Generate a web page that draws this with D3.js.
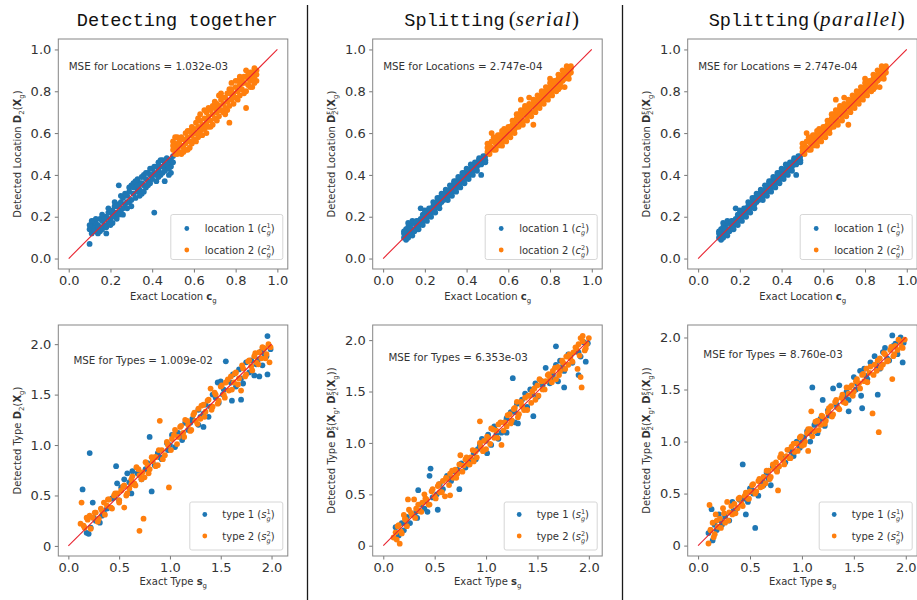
<!DOCTYPE html>
<html>
<head>
<meta charset="utf-8">
<script src="https://cdn.jsdelivr.net/npm/d3@7"></script>
<style>
  body { margin: 0; background: #fff; }
  svg { display: block; }
</style>
</head>
<body>
<div id="chart"></div>
<script>
// ---- data (exact value, detected value) ----
const locTogether1 = [[0.10,0.07],[0.10,0.14],[0.11,0.16],[0.11,0.12],[0.12,0.15],[0.12,0.18],[0.13,0.13],[0.13,0.17],[0.14,0.12],[0.14,0.16],[0.15,0.19],[0.15,0.15],[0.16,0.14],[0.16,0.18],[0.17,0.16],[0.18,0.12],[0.18,0.20],[0.19,0.17],[0.19,0.22],[0.20,0.19],[0.21,0.23],[0.21,0.17],[0.22,0.21],[0.22,0.25],[0.23,0.22],[0.23,0.19],[0.24,0.26],[0.24,0.35],[0.25,0.23],[0.25,0.27],[0.26,0.24],[0.26,0.29],[0.27,0.26],[0.28,0.30],[0.28,0.24],[0.29,0.32],[0.29,0.27],[0.30,0.28],[0.30,0.35],[0.31,0.31],[0.31,0.36],[0.32,0.29],[0.32,0.34],[0.33,0.38],[0.33,0.32],[0.34,0.36],[0.34,0.33],[0.35,0.31],[0.35,0.39],[0.36,0.35],[0.36,0.40],[0.37,0.34],[0.37,0.38],[0.38,0.41],[0.38,0.37],[0.39,0.40],[0.39,0.36],[0.40,0.38],[0.40,0.43],[0.41,0.22],[0.41,0.41],[0.42,0.44],[0.42,0.37],[0.43,0.42],[0.43,0.46],[0.44,0.40],[0.44,0.44],[0.45,0.47],[0.45,0.41],[0.46,0.45],[0.46,0.37],[0.47,0.48],[0.47,0.43],[0.48,0.46],[0.48,0.40],[0.49,0.47],[0.49,0.44],[0.50,0.49],
  [0.10,0.16],[0.11,0.18],[0.12,0.13],[0.13,0.19],[0.14,0.15],[0.15,0.13],[0.16,0.21],[0.17,0.19],[0.18,0.15],[0.19,0.24],[0.20,0.22],[0.20,0.16],[0.21,0.20],[0.22,0.27],[0.23,0.25],[0.24,0.21],[0.25,0.30],[0.26,0.21],[0.27,0.31],[0.28,0.27],[0.29,0.34],[0.30,0.25],[0.31,0.34],[0.32,0.37],[0.33,0.35],[0.34,0.30],[0.35,0.36],[0.36,0.32],[0.37,0.41],[0.38,0.35],[0.39,0.43],[0.40,0.40],[0.41,0.44],[0.42,0.40],[0.43,0.39],[0.44,0.47],[0.45,0.44],[0.46,0.42],[0.47,0.45],[0.48,0.43],[0.49,0.41],[0.50,0.46]];
const locTogether2 = [[0.50,0.52],[0.50,0.56],[0.51,0.50],[0.51,0.55],[0.52,0.58],[0.52,0.53],[0.53,0.51],[0.53,0.56],[0.54,0.54],[0.54,0.50],[0.55,0.57],[0.55,0.53],[0.56,0.55],[0.56,0.60],[0.57,0.52],[0.57,0.58],[0.58,0.56],[0.58,0.61],[0.59,0.55],[0.59,0.59],[0.60,0.62],[0.60,0.57],[0.61,0.60],[0.61,0.65],[0.62,0.58],[0.62,0.63],[0.62,0.67],[0.63,0.66],[0.63,0.61],[0.64,0.64],[0.64,0.59],[0.65,0.67],[0.65,0.62],[0.66,0.65],[0.66,0.70],[0.66,0.60],[0.67,0.63],[0.67,0.68],[0.68,0.66],[0.68,0.71],[0.69,0.69],[0.69,0.64],[0.70,0.72],[0.70,0.67],[0.71,0.70],[0.71,0.74],[0.72,0.68],[0.72,0.73],[0.72,0.78],[0.73,0.71],[0.73,0.76],[0.74,0.70],[0.74,0.74],[0.75,0.77],[0.75,0.72],[0.76,0.75],[0.76,0.71],[0.77,0.79],[0.77,0.65],[0.77,0.81],[0.78,0.76],[0.78,0.81],[0.79,0.74],[0.79,0.79],[0.80,0.82],[0.80,0.77],[0.81,0.80],[0.81,0.85],[0.82,0.78],[0.82,0.83],[0.83,0.86],[0.83,0.81],[0.84,0.84],[0.84,0.79],[0.85,0.72],[0.85,0.87],[0.86,0.83],[0.86,0.88],[0.87,0.85],[0.87,0.89],[0.88,0.86],[0.88,0.82],[0.89,0.91],[0.89,0.87],[0.90,0.88],[0.90,0.85],
  [0.50,0.54],[0.51,0.58],[0.52,0.50],[0.53,0.54],[0.54,0.58],[0.55,0.51],[0.56,0.52],[0.57,0.61],[0.58,0.53],[0.59,0.63],[0.60,0.60],[0.61,0.56],[0.62,0.60],[0.63,0.69],[0.64,0.62],[0.65,0.71],[0.66,0.63],[0.67,0.72],[0.68,0.63],[0.69,0.73],[0.70,0.75],[0.71,0.66],[0.72,0.71],[0.73,0.79],[0.74,0.77],[0.75,0.69],[0.76,0.79],[0.77,0.73],[0.78,0.84],[0.79,0.77],[0.80,0.85],[0.81,0.76],[0.82,0.87],[0.83,0.84],[0.84,0.87],[0.85,0.80],[0.86,0.86],[0.87,0.82],[0.88,0.89],[0.89,0.84],[0.90,0.90],[0.85,0.90]];
const locSplit1 = [[0.10,0.10],[0.10,0.12],[0.11,0.14],[0.11,0.11],[0.12,0.15],[0.12,0.12],[0.13,0.16],[0.13,0.12],[0.14,0.17],[0.14,0.14],[0.15,0.17],[0.15,0.14],[0.16,0.16],[0.16,0.14],[0.17,0.18],[0.17,0.16],[0.18,0.24],[0.18,0.19],[0.19,0.18],[0.19,0.21],[0.20,0.21],[0.20,0.19],[0.21,0.22],[0.21,0.20],[0.22,0.23],[0.22,0.21],[0.23,0.24],[0.23,0.22],[0.24,0.25],[0.24,0.23],[0.25,0.26],[0.25,0.24],[0.26,0.27],[0.26,0.25],[0.27,0.29],[0.27,0.26],[0.28,0.31],[0.28,0.27],[0.29,0.31],[0.29,0.28],[0.30,0.31],[0.30,0.29],[0.31,0.32],[0.31,0.30],[0.32,0.33],[0.32,0.31],[0.33,0.34],[0.33,0.32],[0.34,0.36],[0.34,0.33],[0.35,0.37],[0.35,0.34],[0.36,0.37],[0.36,0.35],[0.37,0.38],[0.37,0.36],[0.38,0.39],[0.38,0.37],[0.39,0.41],[0.39,0.38],[0.40,0.41],[0.40,0.39],[0.41,0.42],[0.41,0.40],[0.42,0.43],[0.42,0.41],[0.43,0.44],[0.43,0.42],[0.44,0.45],[0.44,0.43],[0.45,0.46],[0.45,0.44],[0.46,0.47],[0.46,0.45],[0.47,0.40],[0.47,0.47],[0.48,0.48],[0.48,0.46],[0.49,0.47],[0.49,0.49],
  [0.10,0.13],[0.11,0.09],[0.12,0.17],[0.12,0.10],[0.13,0.14],[0.14,0.11],[0.14,0.18],[0.15,0.13],[0.16,0.18],[0.17,0.14],[0.18,0.17],[0.19,0.16],[0.20,0.23],[0.21,0.18],[0.22,0.24],[0.23,0.20],[0.24,0.27],[0.25,0.22],[0.26,0.29],[0.27,0.24],[0.28,0.29],[0.29,0.30],[0.30,0.33],[0.31,0.28],[0.32,0.35],[0.33,0.30],[0.34,0.37],[0.35,0.32],[0.36,0.39],[0.37,0.34],[0.38,0.41],[0.39,0.36],[0.40,0.43],[0.41,0.38],[0.42,0.45],[0.43,0.40],[0.44,0.46],[0.45,0.42],[0.46,0.48],[0.47,0.45],[0.48,0.49],[0.49,0.46],[0.38,0.40],[0.35,0.36]];
const locSplit2 = [[0.50,0.51],[0.50,0.53],[0.51,0.55],[0.51,0.50],[0.52,0.60],[0.52,0.53],[0.53,0.56],[0.53,0.52],[0.54,0.55],[0.54,0.57],[0.55,0.59],[0.55,0.54],[0.56,0.57],[0.56,0.55],[0.57,0.58],[0.57,0.56],[0.58,0.60],[0.58,0.57],[0.59,0.61],[0.59,0.58],[0.60,0.61],[0.60,0.59],[0.61,0.63],[0.61,0.60],[0.62,0.64],[0.62,0.61],[0.63,0.65],[0.63,0.62],[0.64,0.67],[0.64,0.63],[0.65,0.66],[0.65,0.69],[0.66,0.68],[0.66,0.65],[0.67,0.70],[0.67,0.66],[0.68,0.69],[0.68,0.72],[0.69,0.71],[0.69,0.68],[0.70,0.72],[0.70,0.69],[0.71,0.73],[0.71,0.70],[0.72,0.64],[0.72,0.74],[0.73,0.75],[0.73,0.72],[0.74,0.76],[0.74,0.73],[0.75,0.77],[0.75,0.74],[0.76,0.78],[0.76,0.75],[0.77,0.79],[0.77,0.76],[0.78,0.80],[0.78,0.77],[0.79,0.81],[0.79,0.78],[0.80,0.82],[0.80,0.79],[0.81,0.84],[0.81,0.80],[0.82,0.83],[0.82,0.81],[0.83,0.85],[0.83,0.82],[0.84,0.86],[0.84,0.83],[0.85,0.87],[0.85,0.84],[0.86,0.88],[0.86,0.85],[0.87,0.82],[0.87,0.89],[0.88,0.90],[0.88,0.87],[0.89,0.91],[0.89,0.88],[0.90,0.89],[0.90,0.91],
  [0.50,0.55],[0.51,0.52],[0.52,0.56],[0.53,0.58],[0.54,0.52],[0.55,0.56],[0.56,0.59],[0.57,0.54],[0.58,0.62],[0.59,0.56],[0.60,0.63],[0.61,0.58],[0.62,0.66],[0.63,0.60],[0.64,0.69],[0.65,0.63],[0.66,0.71],[0.67,0.64],[0.68,0.73],[0.69,0.66],[0.70,0.74],[0.71,0.68],[0.72,0.76],[0.73,0.70],[0.74,0.78],[0.75,0.72],[0.76,0.80],[0.77,0.74],[0.78,0.82],[0.79,0.76],[0.80,0.84],[0.81,0.78],[0.82,0.85],[0.83,0.80],[0.84,0.88],[0.85,0.82],[0.86,0.90],[0.87,0.86],[0.88,0.92],[0.89,0.86],[0.90,0.92],[0.66,0.76],[0.70,0.77],[0.80,0.86],[0.84,0.81],[0.57,0.61]];

const typeTogether1 = [[0.14,0.56],[0.21,0.92],[0.18,0.13],[0.20,0.12],[0.22,0.18],[0.24,0.43],[0.27,0.25],[0.31,0.23],[0.33,0.30],[0.38,0.37],[0.40,0.38],[0.43,0.47],[0.47,0.79],[0.48,0.62],[0.50,0.45],[0.52,0.58],[0.55,0.66],[0.58,0.72],[0.62,0.52],[0.63,0.74],[0.68,0.72],[0.72,0.66],[0.76,0.76],[0.80,1.08],[0.82,0.54],[0.85,0.80],[0.88,0.92],[0.92,0.86],[0.97,1.02],[0.98,0.95],[1.02,1.10],[1.05,0.98],[1.08,1.12],[1.12,1.05],[1.15,1.22],[1.18,1.15],[1.22,1.26],[1.28,1.35],[1.28,1.20],[1.33,1.31],[1.33,1.18],[1.35,1.40],[1.38,1.28],[1.42,1.50],[1.47,1.62],[1.48,1.42],[1.50,1.63],[1.53,1.55],[1.55,1.83],[1.61,1.44],[1.62,1.70],[1.65,1.58],[1.68,1.75],[1.70,1.45],[1.72,1.61],[1.75,1.82],[1.78,1.72],[1.83,1.69],[1.85,1.80],[1.88,1.68],[1.90,1.93],[1.91,1.79],[1.95,1.88],[1.96,2.08],[1.99,1.95],[1.96,1.70],
  [0.25,0.28],[0.35,0.33],[0.45,0.48],[0.60,0.63],[0.70,0.70],[0.78,0.82],[0.90,0.88],[1.00,1.00],[1.10,1.08],[1.20,1.22],[1.30,1.28],[1.40,1.38],[1.45,1.47],[1.52,1.50],[1.60,1.62],[1.70,1.66],[1.80,1.84],[1.87,1.85],[1.93,1.90]];
const typeTogether2 = [[0.12,0.22],[0.13,0.43],[0.16,0.18],[0.19,0.26],[0.21,0.30],[0.24,0.28],[0.27,0.33],[0.30,0.27],[0.33,0.35],[0.35,0.43],[0.38,0.40],[0.40,0.46],[0.42,0.38],[0.45,0.50],[0.48,0.52],[0.50,0.45],[0.52,0.55],[0.55,0.38],[0.55,0.60],[0.57,0.50],[0.60,0.57],[0.62,0.66],[0.62,0.61],[0.65,0.62],[0.67,0.78],[0.70,0.15],[0.74,0.27],[0.70,0.70],[0.73,0.73],[0.75,0.68],[0.78,0.80],[0.80,0.76],[0.83,0.84],[0.85,0.88],[0.86,0.88],[0.88,0.80],[0.90,1.24],[0.92,0.95],[0.95,0.90],[0.98,1.00],[0.99,0.58],[1.02,1.06],[1.05,1.15],[1.08,1.08],[1.10,1.18],[1.13,1.12],[1.15,1.25],[1.18,1.20],[1.20,1.14],[1.23,1.30],[1.25,1.24],[1.28,1.36],[1.30,1.26],[1.33,1.40],[1.35,1.33],[1.38,1.45],[1.40,1.56],[1.42,1.38],[1.45,1.50],[1.48,1.44],[1.50,1.58],[1.53,1.50],[1.55,1.62],[1.58,1.54],[1.60,1.68],[1.63,1.62],[1.65,1.72],[1.68,1.66],[1.70,1.54],[1.72,1.76],[1.75,1.70],[1.78,1.84],[1.80,1.78],[1.83,1.88],[1.85,1.82],[1.88,1.92],[1.90,1.86],[1.93,1.96],[1.95,1.90],[1.98,1.82],[1.99,1.97],
  [0.15,0.20],[0.18,0.28],[0.22,0.17],[0.26,0.33],[0.29,0.24],[0.32,0.37],[0.36,0.31],[0.39,0.46],[0.43,0.37],[0.46,0.52],[0.50,0.43],[0.54,0.59],[0.58,0.52],[0.63,0.69],[0.66,0.60],[0.69,0.76],[0.72,0.66],[0.76,0.83],[0.79,0.72],[0.82,0.88],[0.86,0.79],[0.89,0.95],[0.93,0.86],[0.97,1.03],[1.01,0.95],[1.04,1.10],[1.07,1.01],[1.11,1.19],[1.14,1.08],[1.17,1.24],[1.21,1.15],[1.24,1.32],[1.27,1.21],[1.31,1.39],[1.34,1.28],[1.37,1.44],[1.41,1.35],[1.44,1.52],[1.47,1.41],[1.51,1.59],[1.54,1.47],[1.57,1.65],[1.61,1.55],[1.64,1.71],[1.67,1.60],[1.71,1.79],[1.74,1.68],[1.77,1.83],[1.81,1.74],[1.84,1.91],[1.87,1.80],[1.91,1.97],[1.94,1.86],[1.97,2.00]];
const typeSerial1 = [[0.12,0.18],[0.15,0.10],[0.18,0.22],[0.20,0.15],[0.23,0.28],[0.26,0.22],[0.30,0.30],[0.33,0.27],[0.34,0.54],[0.36,0.40],[0.40,0.36],[0.43,0.33],[0.45,0.68],[0.46,0.75],[0.48,0.47],[0.53,0.35],[0.55,0.60],[0.58,0.55],[0.62,0.68],[0.66,0.63],[0.70,0.72],[0.74,0.55],[0.76,0.80],[0.80,0.76],[0.84,0.82],[0.88,0.90],[0.90,0.84],[0.94,0.98],[0.96,1.04],[1.01,0.90],[1.02,1.08],[1.05,0.98],[1.08,1.16],[1.12,1.04],[1.15,1.10],[1.20,1.10],[1.20,1.24],[1.24,1.30],[1.26,1.63],[1.28,1.20],[1.31,1.19],[1.30,1.38],[1.35,1.42],[1.38,1.48],[1.40,1.35],[1.43,1.52],[1.46,1.26],[1.48,1.58],[1.50,1.45],[1.54,1.60],[1.58,1.73],[1.62,1.58],[1.65,1.66],[1.68,1.94],[1.68,1.76],[1.70,1.60],[1.72,1.80],[1.76,1.54],[1.76,1.70],[1.80,1.86],[1.84,1.78],[1.88,1.90],[1.92,1.84],[1.95,1.98],[1.99,1.97],[1.97,1.79],[1.90,1.66],
  [0.22,0.22],[0.32,0.33],[0.42,0.44],[0.52,0.50],[0.64,0.66],[0.72,0.74],[0.82,0.80],[0.92,0.94],[1.00,1.02],[1.10,1.08],[1.18,1.20],[1.28,1.30],[1.36,1.35],[1.45,1.47],[1.55,1.56],[1.63,1.62],[1.74,1.74],[1.82,1.84],[1.90,1.88]];
const typeSerial2 = [[0.10,0.08],[0.12,0.13],[0.13,0.06],[0.15,0.20],[0.16,0.02],[0.18,0.12],[0.20,0.30],[0.22,0.25],[0.24,0.45],[0.25,0.35],[0.28,0.30],[0.30,0.45],[0.32,0.36],[0.35,0.34],[0.38,0.42],[0.40,0.50],[0.42,0.45],[0.45,0.40],[0.48,0.55],[0.50,0.48],[0.53,0.58],[0.55,0.52],[0.58,0.63],[0.60,0.48],[0.62,0.65],[0.65,0.70],[0.65,0.49],[0.68,0.66],[0.70,0.74],[0.72,0.70],[0.75,0.88],[0.78,0.78],[0.80,0.84],[0.82,0.80],[0.85,0.86],[0.88,0.82],[0.90,0.92],[0.94,1.21],[0.95,0.96],[0.98,1.02],[1.00,0.94],[1.02,1.05],[1.05,1.14],[1.08,1.05],[1.10,1.12],[1.12,1.18],[1.15,0.98],[1.18,1.20],[1.20,1.16],[1.23,1.28],[1.25,1.22],[1.28,1.34],[1.30,1.40],[1.32,1.28],[1.35,1.36],[1.38,1.44],[1.40,1.32],[1.42,1.46],[1.45,1.50],[1.48,1.42],[1.50,1.56],[1.52,1.62],[1.55,1.52],[1.58,1.60],[1.60,1.66],[1.62,1.64],[1.65,1.70],[1.68,1.62],[1.70,1.74],[1.72,1.70],[1.75,1.78],[1.78,1.84],[1.80,1.76],[1.82,1.82],[1.85,1.88],[1.89,1.72],[1.88,1.92],[1.90,1.96],[1.92,2.02],[1.93,1.54],[1.94,2.04],[1.96,1.90],[1.98,1.96],[2.00,2.02],[1.92,1.64],
  [0.14,0.19],[0.17,0.14],[0.21,0.26],[0.23,0.19],[0.27,0.32],[0.31,0.27],[0.34,0.40],[0.37,0.33],[0.41,0.46],[0.44,0.40],[0.47,0.53],[0.51,0.46],[0.54,0.60],[0.57,0.52],[0.61,0.66],[0.64,0.59],[0.67,0.73],[0.71,0.66],[0.74,0.79],[0.77,0.72],[0.81,0.86],[0.84,0.79],[0.87,0.93],[0.91,0.86],[0.94,1.00],[0.97,0.92],[1.01,1.06],[1.04,0.99],[1.07,1.13],[1.11,1.05],[1.14,1.20],[1.17,1.12],[1.21,1.27],[1.24,1.19],[1.27,1.33],[1.31,1.25],[1.34,1.40],[1.37,1.32],[1.41,1.46],[1.44,1.39],[1.47,1.53],[1.51,1.46],[1.54,1.60],[1.57,1.52],[1.61,1.67],[1.64,1.59],[1.67,1.73],[1.71,1.66],[1.74,1.80],[1.77,1.72],[1.81,1.86],[1.84,1.79],[1.87,1.93],[1.91,1.85],[1.94,1.99],[1.97,1.92]];
const typeParallel1 = [[0.10,0.12],[0.13,0.35],[0.14,0.05],[0.16,0.20],[0.18,0.15],[0.20,0.30],[0.23,0.20],[0.26,0.28],[0.30,0.24],[0.33,0.42],[0.36,0.34],[0.40,0.44],[0.43,0.78],[0.46,0.30],[0.48,0.42],[0.50,0.55],[0.53,0.50],[0.55,0.17],[0.58,0.48],[0.60,0.62],[0.63,0.58],[0.66,0.70],[0.68,0.64],[0.70,0.58],[0.72,0.76],[0.76,0.72],[0.80,0.85],[0.84,0.80],[0.88,0.92],[0.92,0.86],[0.95,1.00],[0.98,0.94],[1.02,1.04],[1.05,1.10],[1.08,1.00],[1.10,1.52],[1.12,1.16],[1.15,1.08],[1.18,1.22],[1.20,1.40],[1.22,1.15],[1.25,1.30],[1.28,1.26],[1.30,1.51],[1.33,1.36],[1.36,1.54],[1.40,1.44],[1.43,1.48],[1.45,1.40],[1.45,1.29],[1.50,1.62],[1.53,1.56],[1.56,1.68],[1.57,1.44],[1.58,1.32],[1.60,1.70],[1.63,1.60],[1.66,1.76],[1.70,1.82],[1.73,1.45],[1.75,1.70],[1.78,1.86],[1.80,1.90],[1.84,1.78],[1.87,2.02],[1.90,1.94],[1.92,1.84],[1.95,2.00],[1.97,1.76],[1.98,1.95],
  [0.22,0.24],[0.34,0.33],[0.44,0.45],[0.52,0.53],[0.62,0.63],[0.74,0.74],[0.82,0.83],[0.90,0.90],[1.00,0.99],[1.07,1.08],[1.16,1.18],[1.26,1.25],[1.34,1.33],[1.42,1.43],[1.52,1.50],[1.62,1.63],[1.72,1.73],[1.82,1.80],[1.88,1.92]];
const typeParallel2 = [[0.10,0.02],[0.11,0.39],[0.12,0.15],[0.14,0.22],[0.15,0.08],[0.17,0.30],[0.19,0.18],[0.21,0.26],[0.24,0.36],[0.26,0.22],[0.28,0.42],[0.30,0.32],[0.33,0.30],[0.35,0.40],[0.38,0.36],[0.40,0.46],[0.42,0.40],[0.45,0.48],[0.48,0.45],[0.50,0.52],[0.52,0.58],[0.55,0.50],[0.58,0.62],[0.60,0.56],[0.63,0.66],[0.65,0.60],[0.68,0.72],[0.70,0.66],[0.73,0.74],[0.75,0.80],[0.77,0.53],[0.78,0.76],[0.80,0.88],[0.82,0.82],[0.85,0.86],[0.88,0.84],[0.90,0.95],[0.93,0.90],[0.95,0.98],[0.98,1.04],[1.00,0.96],[1.03,1.00],[1.05,1.08],[1.06,0.91],[1.08,1.12],[1.09,1.29],[1.12,1.10],[1.15,1.20],[1.18,1.16],[1.20,1.24],[1.23,1.20],[1.25,1.28],[1.28,1.34],[1.30,1.26],[1.33,1.40],[1.35,1.32],[1.38,1.42],[1.40,1.38],[1.43,1.52],[1.45,1.46],[1.48,1.54],[1.50,1.48],[1.53,1.60],[1.55,1.56],[1.58,1.64],[1.60,1.58],[1.62,1.70],[1.65,1.66],[1.68,1.27],[1.70,1.74],[1.72,1.68],[1.74,1.09],[1.75,1.80],[1.78,1.74],[1.80,1.84],[1.83,1.78],[1.85,1.88],[1.87,1.60],[1.88,1.82],[1.90,1.92],[1.92,1.88],[1.95,1.96],[1.97,1.90],[1.99,1.98],
  [0.12,0.15],[0.16,0.11],[0.18,0.24],[0.22,0.17],[0.25,0.31],[0.29,0.24],[0.32,0.38],[0.36,0.31],[0.39,0.45],[0.43,0.38],[0.46,0.51],[0.49,0.45],[0.53,0.59],[0.56,0.52],[0.59,0.64],[0.62,0.57],[0.66,0.72],[0.69,0.64],[0.72,0.78],[0.76,0.71],[0.79,0.85],[0.83,0.78],[0.86,0.92],[0.89,0.84],[0.92,0.98],[0.96,0.91],[0.99,1.05],[1.02,0.97],[1.06,1.12],[1.10,1.05],[1.13,1.19],[1.16,1.11],[1.19,1.25],[1.22,1.17],[1.26,1.32],[1.29,1.24],[1.32,1.38],[1.36,1.31],[1.39,1.45],[1.42,1.37],[1.46,1.52],[1.49,1.44],[1.52,1.58],[1.56,1.51],[1.59,1.65],[1.63,1.57],[1.66,1.72],[1.69,1.64],[1.73,1.78],[1.76,1.71],[1.79,1.85],[1.82,1.77],[1.86,1.91],[1.89,1.84],[1.93,1.98],[1.96,1.91]];

// identity reference lines
const refTop = [[0, 0], [1, 1]];
const refBottom = [[0, 0], [2, 2]];

const ticksTop = [0, 0.2, 0.4, 0.6, 0.8, 1.0];
const ticksBottom = [0, 0.5, 1.0, 1.5, 2.0];
const titles = ["Detecting together", "Splitting", "Splitting"];
const titleModes = [null, "serial", "parallel"];
const mseTop = ["1.032e-03", "2.747e-04", "2.747e-04"];
const mseBottom = ["1.009e-02", "6.353e-03", "8.760e-03"];

const W = 917, H = 600;
const BLUE = "#1f77b4", ORANGE = "#ff7f0e", RED = "#e8232f";
const SANS = "'DejaVu Sans', sans-serif";

const svg = d3.select("#chart").append("svg")
  .attr("width", W).attr("height", H)
  .attr("viewBox", [0, 0, W, H]);

// panel frames (left edge per column), domains per panel
const colLeft = [58.3, 372.7, 687.7];
const panels = [
  { row: 0, col: 0, blue: locTogether1, orange: locTogether2, xd: [-0.05, 1.05], yd: [-0.05, 1.05] },
  { row: 0, col: 1, blue: locSplit1, orange: locSplit2, xd: [-0.05, 1.05], yd: [-0.05, 1.05] },
  { row: 0, col: 2, blue: locSplit1, orange: locSplit2, xd: [-0.05, 1.05], yd: [-0.05, 1.05] },
  { row: 1, col: 0, blue: typeTogether1, orange: typeTogether2, xd: [-0.099, 2.16], yd: [-0.10, 2.19] },
  { row: 1, col: 1, blue: typeSerial1, orange: typeSerial2, xd: [-0.103, 2.13], yd: [-0.10, 2.147] },
  { row: 1, col: 2, blue: typeParallel1, orange: typeParallel2, xd: [-0.10, 2.11], yd: [-0.10, 2.12] },
];

// helper: append a tspan with options
function tsp(text, str, o = {}) {
  const t = text.append("tspan").text(str);
  if (o.bold) t.attr("font-weight", "bold");
  if (o.italic) t.attr("font-style", "italic");
  if (o.size) t.attr("font-size", o.size);
  if (o.dy) t.attr("dy", o.dy);
  if (o.dx) t.attr("dx", o.dx);
  if (o.family) t.attr("font-family", o.family);
  return t;
}

// D_2 or D_2^xi
function detector(text, splitting) {
  tsp(text, "D", { bold: true });
  if (splitting) {
    tsp(text, "ξ", { size: 7, dy: -3.5 });
    tsp(text, "2", { size: 7, dy: 6.5, dx: -4.3 });
  } else {
    tsp(text, "2", { size: 7, dy: 3 });
  }
}

function xg(text, dyBack) {
  tsp(text, "(", { dy: dyBack });
  tsp(text, "X", { bold: true });
  tsp(text, "g", { size: 7, dy: 3 });
}

panels.forEach((p, i) => {
  const left = colLeft[p.col];
  const top = p.row === 0 ? 39 : 325;
  const size = p.row === 0 ? 230 : 231;
  const xScale = d3.scaleLinear(p.xd, [left, left + 229.5]);
  const yScale = d3.scaleLinear(p.yd, [top + size, top]);
  const g = svg.append("g");

  const clipId = "clip" + i;
  g.append("clipPath").attr("id", clipId)
    .append("rect").attr("x", left).attr("y", top).attr("width", 229.5).attr("height", size);

  const ticks = p.row === 0 ? ticksTop : ticksBottom;
  const xAxis = d3.axisBottom(xScale).tickValues(ticks).tickSize(3.5).tickPadding(3)
    .tickSizeOuter(0).tickFormat(d3.format(".1f"));
  const yAxis = d3.axisLeft(yScale).tickValues(ticks).tickSize(3.5).tickPadding(3.5)
    .tickSizeOuter(0)
    .tickFormat(d => (p.row === 1 && d === 0) ? "0" : d3.format(".1f")(d));

  [g.append("g").attr("transform", `translate(0,${top + size})`).call(xAxis),
   g.append("g").attr("transform", `translate(${left},0)`).call(yAxis)].forEach(a => {
    a.select(".domain").remove();
    a.selectAll(".tick line").attr("stroke", "#666").attr("stroke-width", 0.9);
    a.selectAll(".tick text").attr("fill", "#333").attr("font-size", 13).attr("font-family", SANS);
  });

  // points: blue first, orange on top, then the identity line
  const pts = g.append("g").attr("clip-path", `url(#${clipId})`);
  pts.selectAll("circle.b").data(p.blue).join("circle").attr("class", "b")
    .attr("cx", d => xScale(d[0])).attr("cy", d => yScale(d[1])).attr("r", 2.9).attr("fill", BLUE);
  pts.selectAll("circle.o").data(p.orange).join("circle").attr("class", "o")
    .attr("cx", d => xScale(d[0])).attr("cy", d => yScale(d[1])).attr("r", 2.9).attr("fill", ORANGE);

  const line = d3.line().x(d => xScale(d[0])).y(d => yScale(d[1]));
  pts.append("path").attr("d", line(p.row === 0 ? refTop : refBottom))
    .attr("fill", "none").attr("stroke", RED).attr("stroke-width", 1.1);

  // frame
  g.append("rect").attr("x", left).attr("y", top).attr("width", 229.5).attr("height", size)
    .attr("fill", "none").attr("stroke", "#858585").attr("stroke-width", 1);

  // MSE annotation
  const mse = p.row === 0
    ? { x: 0, y: 0.9, s: "MSE for Locations = " + mseTop[p.col] }
    : { x: 0.05, y: 1.8, s: "MSE for Types = " + mseBottom[p.col] };
  g.append("text").attr("x", xScale(mse.x)).attr("y", yScale(mse.y))
    .attr("font-family", SANS).attr("font-size", 10.3).attr("fill", "#333").text(mse.s);

  // x label
  const xl = g.append("text").attr("x", left + 115).attr("y", p.row === 0 ? 300 : 585)
    .attr("text-anchor", "middle").attr("font-family", SANS).attr("font-size", 10).attr("fill", "#333");
  tsp(xl, p.row === 0 ? "Exact Location " : "Exact Type ");
  tsp(xl, p.row === 0 ? "c" : "s", { bold: true });
  tsp(xl, "g", { size: 7, dy: 3 });

  // y label
  const yl = g.append("text")
    .attr("transform", `translate(${left - 37.5},${top + size / 2}) rotate(-90)`)
    .attr("text-anchor", "middle").attr("font-family", SANS).attr("font-size", 10).attr("fill", "#333");
  const split = p.col > 0;
  tsp(yl, p.row === 0 ? "Detected Location " : "Detected Type ");
  detector(yl, split);
  xg(yl, -3);
  if (p.row === 1 && split) {
    tsp(yl, ", ", { dy: -3 });
    detector(yl, true);
    xg(yl, -3);
    tsp(yl, "))", { dy: -3 });
  } else {
    tsp(yl, ")", { dy: -3 });
  }

  // legend
  const lw = p.row === 0 ? 112 : 93, lh = p.row === 0 ? 45 : 48;
  const lx = left + 229.5 - 5 - lw;
  const ly = top + size - (p.row === 0 ? 9.5 : 6) - lh;
  const lg = g.append("g");
  lg.append("rect").attr("x", lx).attr("y", ly).attr("width", lw).attr("height", lh)
    .attr("rx", 2).attr("fill", "#fff").attr("fill-opacity", 0.85)
    .attr("stroke", "#d6d6d6").attr("stroke-width", 1);
  const names = p.row === 0 ? ["location 1 (", "location 2 ("] : ["type 1 (", "type 2 ("];
  const sym = p.row === 0 ? "c" : "s";
  [BLUE, ORANGE].forEach((c, k) => {
    const ry = ly + (p.row === 0 ? 14 : 12.5) + k * 21.5;
    lg.append("circle").attr("cx", lx + (p.row === 0 ? 16 : 15)).attr("cy", ry).attr("r", 2.4).attr("fill", c);
    const t = lg.append("text").attr("x", lx + (p.row === 0 ? 34 : 32.5)).attr("y", ry + 3.5)
      .attr("font-family", SANS).attr("font-size", 10).attr("fill", "#333");
    tsp(t, names[k]);
    tsp(t, sym, { italic: true });
    tsp(t, String(k + 1), { size: 6.5, dy: -4 });
    tsp(t, "g", { size: 6.5, dy: 7, dx: -4.1, italic: true });
    tsp(t, ")", { dy: -3 });
  });

  // column title
  if (p.row === 0) {
    const tt = svg.append("text").attr("x", left + 115 + 4).attr("y", 26)
      .attr("text-anchor", "middle").attr("font-size", 18.6).attr("fill", "#111");
    tsp(tt, titles[p.col], { family: "'Liberation Mono', 'DejaVu Sans Mono', monospace" });
    if (titleModes[p.col]) {
      tsp(tt, "(", { dx: 4, family: "'Liberation Serif', serif", size: 21 });
      tsp(tt, titleModes[p.col], { italic: true, family: "'Liberation Serif', serif", size: 21 })
        .attr("letter-spacing", 1.4);
      tsp(tt, ")", { family: "'Liberation Serif', serif", size: 21 });
    }
  }
});

// column separators
[307.5, 622.5].forEach(x => {
  svg.append("line").attr("x1", x).attr("x2", x).attr("y1", 5).attr("y2", H)
    .attr("stroke", "#1a1a1a").attr("stroke-width", 1.3);
});
</script>
</body>
</html>
